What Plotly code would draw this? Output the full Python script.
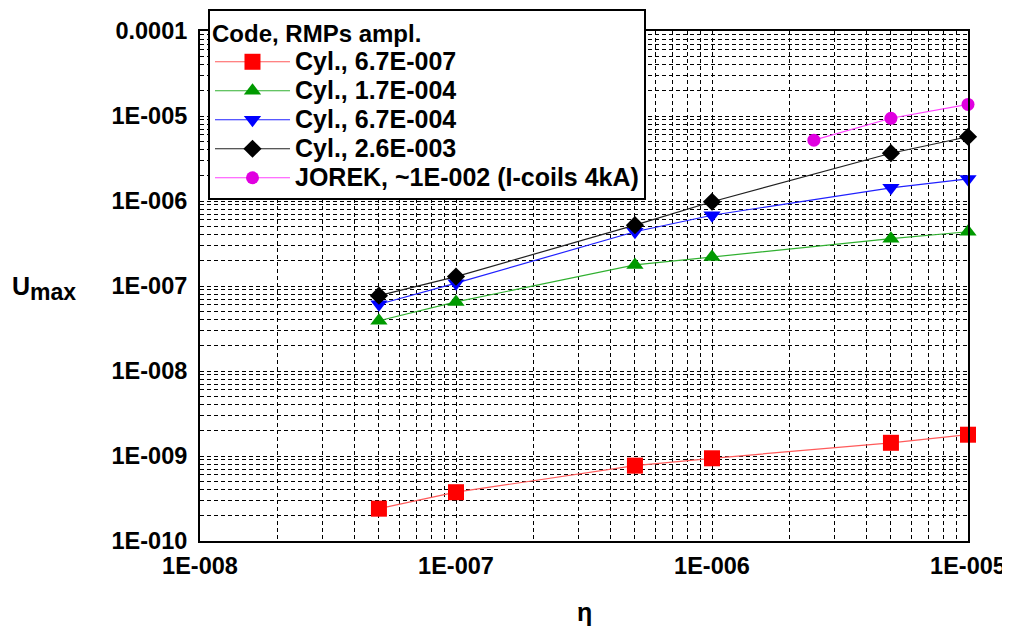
import plotly.graph_objects as go

eta = [5e-8, 1e-7, 5e-7, 1e-6, 5e-6, 1e-5]
eta_jorek = [2.5e-6, 5e-6, 1e-5]

cyl_67e7 = [2.4e-10, 3.75e-10, 7.7e-10, 9.4e-10, 1.43e-9, 1.78e-9]
cyl_17e4 = [3.9e-8, 6.5e-8, 1.77e-7, 2.2e-7, 3.6e-7, 4.35e-7]
cyl_67e4 = [6.1e-8, 1.08e-7, 4.35e-7, 6.8e-7, 1.43e-6, 1.82e-6]
cyl_26e3 = [7.7e-8, 1.29e-7, 5.2e-7, 9.8e-7, 3.65e-6, 5.7e-6]
jorek = [5.2e-6, 9.4e-6, 1.37e-5]

names = ["Cyl., 6.7E-007", "Cyl., 1.7E-004", "Cyl., 6.7E-004", "Cyl., 2.6E-003",
         "JOREK, ~1E-002 (I-coils 4kA)"]

x_tickvals = [1e-8, 1e-7, 1e-6, 1e-5]
x_ticktext = ["1E-008", "1E-007", "1E-006", "1E-005"]
y_tickvals = [1e-10, 1e-9, 1e-8, 1e-7, 1e-6, 1e-5, 1e-4]
y_ticktext = ["1E-010", "1E-009", "1E-008", "1E-007", "1E-006", "1E-005", "0.0001"]

x_minor = [k * 10.0 ** n for n in range(-8, -5) for k in range(2, 10)]
y_minor = [k * 10.0 ** n for n in range(-10, -4) for k in range(2, 10)]

FONT = "Liberation Sans, Arial, sans-serif"

fig = go.Figure()
styles = [
    (eta, cyl_67e7, "square", 16, "#ff0000", "#ff5a5a"),
    (eta, cyl_17e4, "triangle-up", 15, "#009a00", "#30b030"),
    (eta, cyl_67e4, "triangle-down", 15, "#0000ff", "#2020ff"),
    (eta, cyl_26e3, "diamond", 14, "#000000", "#202020"),
    (eta_jorek, jorek, "circle", 13, "#e000e0", "#ff40ff"),
]
for (xs, ys, sym, sz, mc, lc), nm in zip(styles, names):
    fig.add_trace(go.Scatter(
        x=xs, y=ys, name=f"<span style='font-size:25px'>{nm}</span>",
        mode="lines+markers",
        line=dict(color=lc, width=1.2),
        marker=dict(symbol=sym, size=sz, color=mc, line=dict(width=0)),
        cliponaxis=False,
    ))

grid = dict(showgrid=True, gridcolor="black", gridwidth=1, griddash="4px,3px")

fig.update_layout(
    width=1002, height=621,
    margin=dict(l=192, r=42, t=23, b=88, autoexpand=False),
    paper_bgcolor="white", plot_bgcolor="white",
    font=dict(family=FONT, size=23.5, color="black", weight="bold"),
    showlegend=True,
    legend=dict(
        x=0.0104, y=1.043, xanchor="left", yanchor="top",
        bgcolor="white", bordercolor="black", borderwidth=2,
        title=dict(text="Code, RMPs ampl.", font=dict(size=24, family=FONT, weight="bold")),
        font=dict(size=20, family=FONT, weight="bold"),
        itemwidth=75,
        tracegroupgap=0,
    ),
    xaxis=dict(
        type="log", range=[-8, -5],
        tickvals=x_tickvals, ticktext=x_ticktext,
        showline=True, linecolor="black", linewidth=2, mirror=True,
        ticks="", zeroline=False, ticklabelstandoff=3,
        minor=dict(tickvals=x_minor, showgrid=True, gridcolor="black",
                   gridwidth=1, griddash="4px,3px", ticks=""),
        automargin=False,
        **grid,
    ),
    yaxis=dict(
        type="log", range=[-10, -4],
        tickvals=y_tickvals, ticktext=y_ticktext,
        showline=True, linecolor="black", linewidth=2, mirror=True,
        ticks="", zeroline=False, ticklabelstandoff=6,
        minor=dict(tickvals=y_minor, showgrid=True, gridcolor="black",
                   gridwidth=1, griddash="4px,3px", ticks=""),
        automargin=False,
        **grid,
    ),
    annotations=[
        dict(text="U<sub><span style='font-size:23px'>max</span></sub>",
             xref="paper", yref="paper", x=-0.247, y=0.495,
             xanchor="left", yanchor="middle", showarrow=False,
             font=dict(size=25, family=FONT, weight="bold")),
        dict(text="η", xref="paper", yref="paper", x=0.5, y=-0.14,
             xanchor="center", yanchor="middle", showarrow=False,
             font=dict(size=25, family=FONT, weight="bold")),
    ],
)

fig.write_html("out.html")
